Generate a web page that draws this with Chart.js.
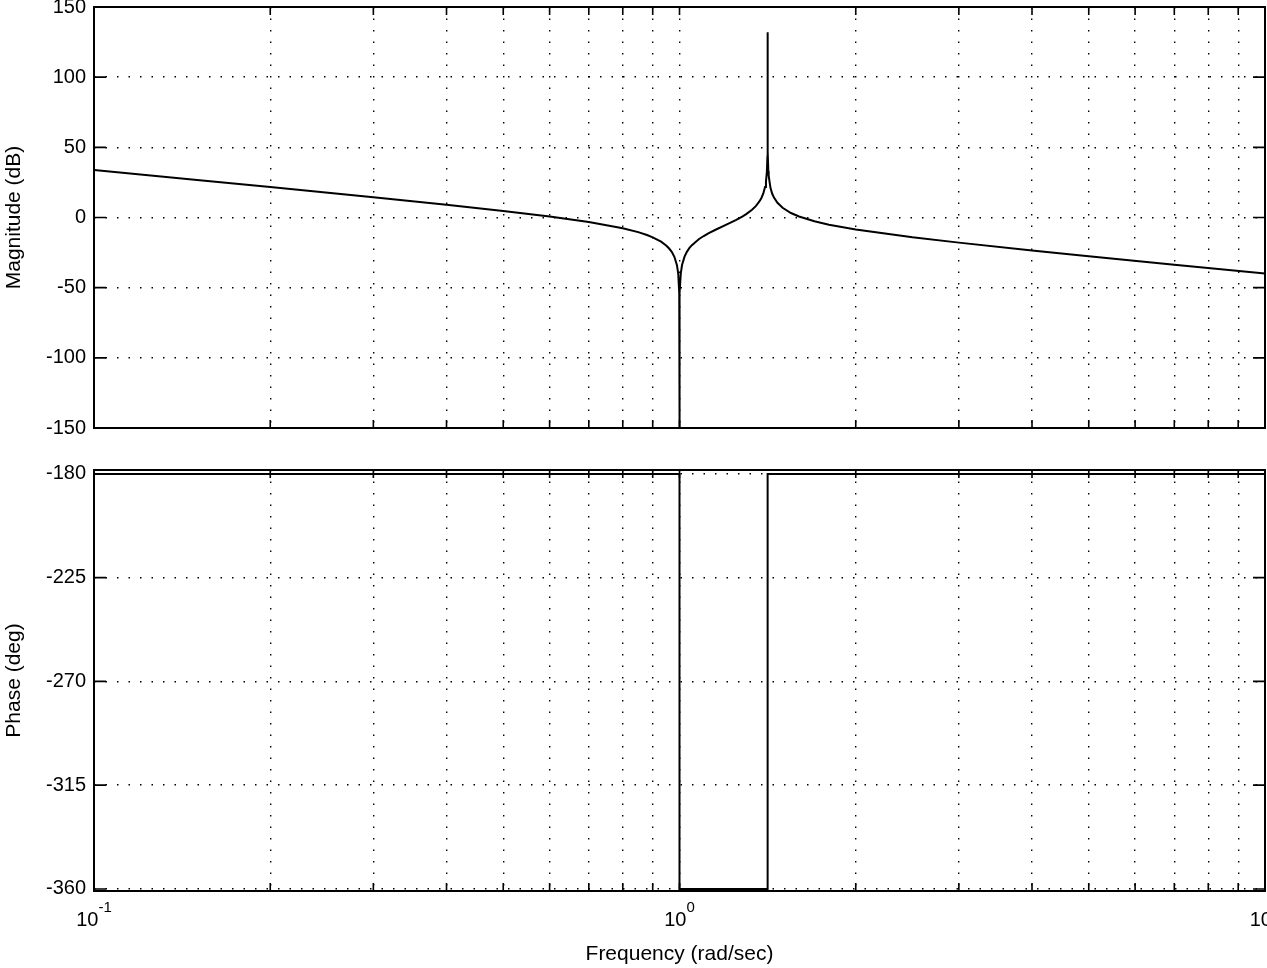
<!DOCTYPE html>
<html>
<head>
<meta charset="utf-8">
<title>Bode diagram</title>
<script src="https://cdn.jsdelivr.net/npm/chart.js@4.4.0/dist/chart.umd.min.js"></script>
<style>
  html, body { margin: 0; padding: 0; background: #fff; }
  #wrap { position: relative; width: 1267px; height: 968px; overflow: hidden; }
  #magWrap { position: absolute; left: 0; top: 0; width: 1267px; height: 440px; }
  #phaseWrap { position: absolute; left: 0; top: 440px; width: 1267px; height: 528px; }
</style>
</head>
<body>
<div id="wrap">
  <div id="magWrap"><canvas id="magChart"></canvas></div>
  <div id="phaseWrap"><canvas id="phaseChart"></canvas></div>
</div>
<script>
const FONT = "'Liberation Sans', Arial, Helvetica, sans-serif";
Chart.defaults.font.family = FONT;
Chart.defaults.color = '#000';

// Grid positions on the frequency axis (1..9 per decade) and the decade labels
const freqGrid = [0.1, 0.2, 0.3, 0.4, 0.5, 0.6, 0.7, 0.8, 0.9,
                  1, 2, 3, 4, 5, 6, 7, 8, 9, 10];
const freqDecades = [0.1, 1, 10];
const decadeExponents = ['-1', '0', '1'];

const magTicks = [-150, -100, -50, 0, 50, 100, 150];
const phaseTicks = [-360, -315, -270, -225, -180];

// Magnitude response (rad/sec, dB)
const magFreq = [0.1, 0.15, 0.2, 0.3, 0.4, 0.5, 0.6, 0.7, 0.8, 0.85,
                 0.88, 0.9, 0.93, 0.95, 0.96, 0.97, 0.98, 0.99, 0.995, 0.999,
                 0.9999, 1, 1.0001, 1.001, 1.005, 1.01, 1.02, 1.03, 1.04, 1.05,
                 1.08, 1.1, 1.12, 1.15, 1.2, 1.25, 1.28, 1.3, 1.33, 1.35,
                 1.37, 1.38, 1.39, 1.4, 1.405, 1.41, 1.413, 1.414, 1.4142, 1.4145,
                 1.415, 1.418, 1.42, 1.43, 1.44, 1.45, 1.47, 1.5, 1.55, 1.6,
                 1.7, 1.8, 2, 2.5, 3, 4, 5, 7, 10];
const magDb = [33.9, 26.8, 21.8, 14.5, 9.1, 4.7, 0.7, -3.2, -7.7, -10.4,
               -12.5, -14.1, -17.2, -20.1, -22.1, -24.5, -28.0, -34.0, -40.0, -54.0,
               -74.0, -150, -74.0, -54.0, -40.0, -33.9, -27.9, -24.3, -21.7, -19.7,
               -15.3, -13.2, -11.3, -8.9, -5.3, -1.7, 0.6, 2.4, 5.5, 8.1,
               11.6, 13.9, 17.0, 21.8, 25.6, 32.4, 43.3, 58.4, 132, 55.8,
               47.0, 33.4, 29.8, 21.1, 16.9, 14.2, 10.5, 6.9, 3.2, 0.7,
               -2.7, -5.1, -8.5, -14.1, -17.9, -23.5, -27.6, -33.6, -39.9];

// Phase response (rad/sec, deg)
const phaseFreq = [0.1, 1, 1, 1.4142, 1.4142, 10];
const phaseDeg = [-180, -180, -360, -360, -180, -180];

function toPoints(xs, ys) {
  return xs.map((x, i) => ({x: x, y: ys[i]}));
}

// Frame round the plot with short inward ticks on all four sides
const boxFrame = {
  id: 'boxFrame',
  afterDraw(chart) {
    const {ctx, chartArea: a, scales: {x, y}} = chart;
    ctx.save();
    ctx.strokeStyle = '#000';
    ctx.lineWidth = 1.6;
    ctx.beginPath();
    freqGrid.forEach(v => {
      const px = x.getPixelForValue(v);
      ctx.moveTo(px, a.top); ctx.lineTo(px, a.top + 8);
      ctx.moveTo(px, a.bottom); ctx.lineTo(px, a.bottom - 8);
    });
    y.ticks.forEach(t => {
      const py = y.getPixelForValue(t.value);
      ctx.moveTo(a.left, py); ctx.lineTo(a.left + 12, py);
      ctx.moveTo(a.right, py); ctx.lineTo(a.right - 12, py);
    });
    ctx.stroke();
    ctx.lineWidth = 2;
    ctx.strokeRect(a.left, a.top, a.right - a.left, a.bottom - a.top);
    ctx.restore();
  }
};

// "10" with a raised exponent under each decade
const decadeLabels = {
  id: 'decadeLabels',
  afterDraw(chart) {
    const {ctx, chartArea: a, scales: {x}} = chart;
    ctx.save();
    ctx.fillStyle = '#000';
    ctx.textAlign = 'left';
    ctx.textBaseline = 'alphabetic';
    freqDecades.forEach((v, i) => {
      const exp = decadeExponents[i];
      ctx.font = '20px ' + FONT;
      const bw = ctx.measureText('10').width;
      ctx.font = '15px ' + FONT;
      const ew = ctx.measureText(exp).width;
      const left = x.getPixelForValue(v) - (bw + ew) / 2;
      ctx.font = '20px ' + FONT;
      ctx.fillText('10', left, a.bottom + 35);
      ctx.font = '15px ' + FONT;
      ctx.fillText(exp, left + bw, a.bottom + 21);
    });
    ctx.restore();
  }
};

function freqAxis(height, title) {
  return {
    type: 'logarithmic',
    min: 0.1,
    max: 10,
    afterBuildTicks: s => { s.ticks = freqGrid.map(v => ({value: v})); },
    afterFit: s => { s.height = height; s.paddingLeft = 0; s.paddingRight = 0; },
    ticks: {display: false},
    grid: {color: '#000', lineWidth: 1.4, drawTicks: false},
    border: {display: false, dash: [1.5, 10]},
    title: {
      display: !!title,
      text: title || '',
      font: {size: 21},
      padding: {top: 0, bottom: 1}
    }
  };
}

function valueAxis(min, max, tickValues, title) {
  return {
    min: min,
    max: max,
    afterBuildTicks: s => { s.ticks = tickValues.map(v => ({value: v})); },
    afterFit: s => { s.width = 94; s.paddingTop = 0; s.paddingBottom = 0; },
    ticks: {font: {size: 20}, padding: 8, color: '#000'},
    grid: {color: '#000', lineWidth: 1.4, drawTicks: false},
    border: {display: false, dash: [1.5, 10]},
    title: {
      display: true,
      text: title,
      font: {size: 21},
      padding: {top: 2, bottom: 0}
    }
  };
}

function lineData(xs, ys) {
  return {
    datasets: [{
      data: toPoints(xs, ys),
      borderColor: '#000',
      borderWidth: 2,
      pointRadius: 0,
      tension: 0,
      fill: false
    }]
  };
}

const baseOptions = {
  responsive: true,
  maintainAspectRatio: false,
  animation: false,
  events: [],
  plugins: {legend: {display: false}, tooltip: {enabled: false}}
};

const magChart = new Chart(document.getElementById('magChart').getContext('2d'), {
  type: 'line',
  data: lineData(magFreq, magDb),
  options: Object.assign({}, baseOptions, {
    layout: {padding: {top: 7, right: 2, bottom: 12, left: 0}},
    scales: {
      x: freqAxis(0),
      y: valueAxis(-150, 150, magTicks, 'Magnitude (dB)')
    }
  }),
  plugins: [boxFrame]
});

const phaseChart = new Chart(document.getElementById('phaseChart').getContext('2d'), {
  type: 'line',
  data: lineData(phaseFreq, phaseDeg),
  options: Object.assign({}, baseOptions, {
    layout: {padding: {top: 30, right: 2, bottom: 0, left: 0}},
    scales: {
      x: freqAxis(77, 'Frequency (rad/sec)'),
      y: valueAxis(-360.9, -178.3, phaseTicks, 'Phase (deg)')
    }
  }),
  plugins: [boxFrame, decadeLabels]
});
</script>
</body>
</html>
